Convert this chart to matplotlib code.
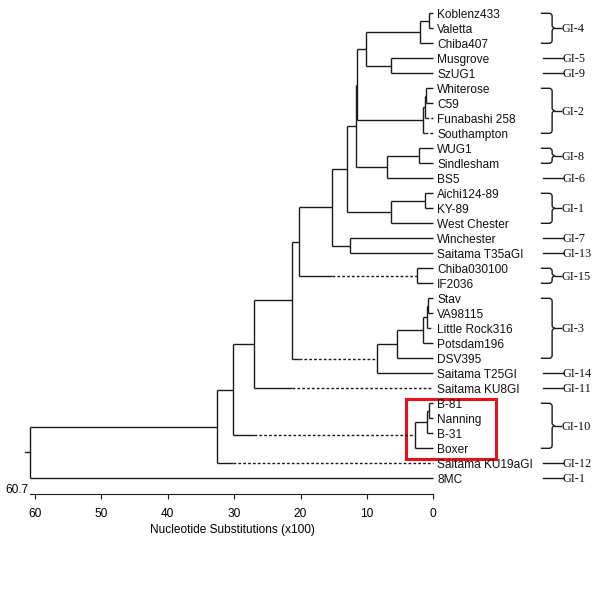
import numpy as np
import matplotlib
matplotlib.use('Agg')
import matplotlib.pyplot as plt
from matplotlib.path import Path
from matplotlib.patches import PathPatch, Rectangle

# leaves, top to bottom
leaves = ["Koblenz433", "Valetta", "Chiba407", "Musgrove", "SzUG1",
          "Whiterose", "C59", "Funabashi 258", "Southampton", "WUG1",
          "Sindlesham", "BS5", "Aichi124-89", "KY-89", "West Chester",
          "Winchester", "Saitama T35aGI", "Chiba030100", "IF2036", "Stav",
          "VA98115", "Little Rock316", "Potsdam196", "DSV395", "Saitama T25GI",
          "Saitama KU8GI", "B-81", "Nanning", "B-31", "Boxer",
          "Saitama KU19aGI", "8MC"]

# merges: (node, child a, child b, depth in substitutions x100)
merges = [
    ("kv", "Koblenz433", "Valetta", 0.6),
    ("gi4", "kv", "Chiba407", 2.0),
    ("ms", "Musgrove", "SzUG1", 6.3),
    ("g45", "gi4", "ms", 10.1),
    ("wc", "Whiterose", "C59", 1.1),
    ("wcf", "wc", "Funabashi 258", 1.3),
    ("gi2", "wcf", "Southampton", 1.6),
    ("a", "g45", "gi2", 11.55),
    ("ws", "WUG1", "Sindlesham", 2.1),
    ("g86", "ws", "BS5", 7.0),
    ("b", "a", "g86", 11.7),
    ("ak", "Aichi124-89", "KY-89", 1.25),
    ("gi1", "ak", "West Chester", 6.3),
    ("c", "b", "gi1", 13.05),
    ("wt", "Winchester", "Saitama T35aGI", 12.6),
    ("d", "c", "wt", 15.2),
    ("ci", "Chiba030100", "IF2036", 2.5),
    ("e", "d", "ci", 20.25),
    ("sv", "Stav", "VA98115", 0.75),
    ("svl", "sv", "Little Rock316", 1.0),
    ("svlp", "svl", "Potsdam196", 1.6),
    ("gi3", "svlp", "DSV395", 5.4),
    ("gt", "gi3", "Saitama T25GI", 8.5),
    ("f", "e", "gt", 21.3),
    ("g", "f", "Saitama KU8GI", 27.0),
    ("bn", "B-81", "Nanning", 0.6),
    ("bnb", "bn", "B-31", 1.0),
    ("gi10", "bnb", "Boxer", 2.75),
    ("h", "g", "gi10", 30.1),
    ("i", "h", "Saitama KU19aGI", 32.6),
    ("root", "i", "8MC", 60.7),
]
dashed = {"Funabashi 258", "Southampton", "Little Rock316", "ci", "gt",
          "Saitama KU8GI", "gi10", "Saitama KU19aGI"}

# genotype groups: (label, first leaf, last leaf)
groups = [("GI-4", 0, 2), ("GI-5", 3, 3), ("GI-9", 4, 4), ("GI-2", 5, 8),
          ("GI-8", 9, 10), ("GI-6", 11, 11), ("GI-1", 12, 14), ("GI-7", 15, 15),
          ("GI-13", 16, 16), ("GI-15", 17, 18), ("GI-3", 19, 23),
          ("GI-14", 24, 24), ("GI-11", 25, 25), ("GI-10", 26, 29),
          ("GI-12", 30, 30), ("GI-1", 31, 31)]
highlight = ("B-81", "Boxer")
xticks = [60, 50, 40, 30, 20, 10, 0]

W, H = 616, 595
fig = plt.figure(figsize=(W / 100, H / 100), dpi=100)
ax = fig.add_axes([0, 1 - 494 / H, 1, 494 / H])
ax.set_xlim(433.3 / 6.638, (433.3 - W) / 6.638)
ax.set_ylim((494 - 13.3) / 15, -13.3 / 15)

col = '#1a1a1a'
lw = 1.0
sans = ['Liberation Sans', 'DejaVu Sans']
serif = ['Liberation Serif', 'DejaVu Serif']

ypos = {n: i for i, n in enumerate(leaves)}
depth = {n: 0.0 for n in leaves}
for node, a, b, dd in merges:
    ypos[node] = (ypos[a] + ypos[b]) / 2
    depth[node] = dd

for node, a, b, dd in merges:
    ax.plot([dd, dd], [ypos[a], ypos[b]], color=col, lw=lw, solid_capstyle='butt')
    for ch, sib in ((a, b), (b, a)):
        if ch in dashed:
            mid = min(depth[sib], dd)
            ax.plot([dd, mid], [ypos[ch]] * 2, color=col, lw=lw, solid_capstyle='butt')
            ax.plot([mid, depth[ch]], [ypos[ch]] * 2, color=col, lw=lw,
                    linestyle=(0, (2, 1.5)))
        else:
            ax.plot([dd, depth[ch]], [ypos[ch]] * 2, color=col, lw=lw, solid_capstyle='butt')

# root stub
ax.plot([depth["root"], depth["root"] + 0.8], [ypos["root"]] * 2, color=col, lw=lw)

for n in leaves:
    ax.text(-0.6, ypos[n] + 0.1, n, ha='left', va='center', fontsize=8.6,
            family=sans, color='#111111')

# group braces
x0, xv, xt = -16.2, -17.9, -19.2
rx, ry = 0.45, 0.2
for lab, i0, i1 in groups:
    if i0 == i1:
        ax.plot([-16.5, -19.5], [i0, i0], color=col, lw=lw, clip_on=False)
        ax.text(-19.5, i0 + 0.05, lab, ha='left', va='center', fontsize=8.8,
                family=serif, color='#111111')
        continue
    ym = (i0 + i1) / 2
    for yy, s in ((i0, 1), (i1, -1)):
        verts = [(x0, yy), (xv + rx, yy), (xv, yy), (xv, yy + s * ry),
                 (xv, ym - s * ry), (xv, ym), (xv - rx, ym)]
        codes = [Path.MOVETO, Path.LINETO, Path.CURVE3, Path.CURVE3,
                 Path.LINETO, Path.CURVE3, Path.CURVE3]
        ax.add_patch(PathPatch(Path(verts, codes), fill=False, edgecolor=col, lw=lw))
    ax.plot([xv - rx, xt], [ym, ym], color=col, lw=lw)
    ax.text(xt - 0.1, ym + 0.05, lab, ha='left', va='center', fontsize=8.8,
            family=serif, color='#111111')

# red highlight box
i0, i1 = ypos[highlight[0]], ypos[highlight[1]]
ax.add_patch(Rectangle((4.1, i0 - 0.27), -13.55, (i1 - i0) + 1.0, fill=False,
                       edgecolor='#e3121b', lw=2.2))

# axis
for s in ['top', 'left', 'right']:
    ax.spines[s].set_visible(False)
ax.spines['bottom'].set_bounds(0, depth["root"])
ax.spines['bottom'].set_color(col)
ax.set_yticks([])
ax.set_xticks(xticks)
ax.tick_params(axis='x', direction='out', length=3.6, width=0.8, color=col,
               labelsize=8.6, pad=6.5)
for t in ax.get_xticklabels():
    t.set_family(sans)
ax.text(61.0, (490 - 13.3) / 15, "60.7", ha='right', va='center', fontsize=8.6,
        family=sans, clip_on=False)
ax.set_xlabel("Nucleotide Substitutions (x100)", fontsize=8.6, family=sans)
ax.xaxis.set_label_coords(232.5 / W, -(524 - 494) / 494)

plt.savefig('out.png', dpi=100)
